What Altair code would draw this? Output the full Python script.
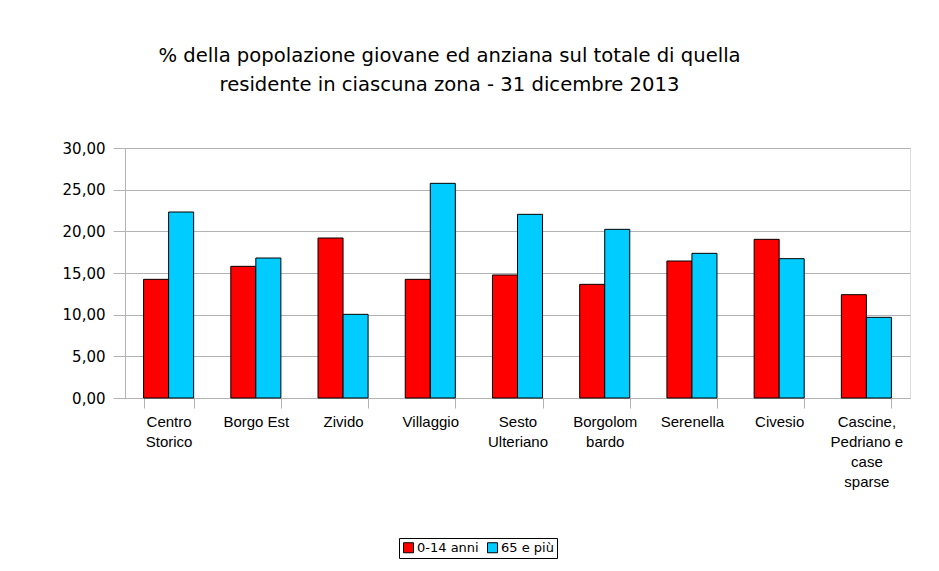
import altair as alt
import pandas as pd

zones = ["Centro Storico", "Borgo Est", "Zivido", "Villaggio", "Sesto Ulteriano",
         "Borgolombardo", "Serenella", "Civesio", "Cascine, Pedriano e case sparse"]
zone_labels = [["Centro", "Storico"], ["Borgo Est"], ["Zivido"], ["Villaggio"],
               ["Sesto", "Ulteriano"], ["Borgolom", "bardo"], ["Serenella"], ["Civesio"],
               ["Cascine,", "Pedriano e", "case", "sparse"]]
young = [14.24, 15.80, 19.20, 14.24, 14.76, 13.64, 16.44, 19.04, 12.40]
old = [22.32, 16.80, 10.04, 25.76, 22.04, 20.24, 17.36, 16.72, 9.68]
series = ["0-14 anni", "65 e più"]
colors = ["#FF0000", "#00CCFF"]
y_ticks = [0, 5, 10, 15, 20, 25, 30]

rows = []
for z, a, b in zip(zones, young, old):
    rows.append({"zona": z, "serie": series[0], "valore": a})
    rows.append({"zona": z, "serie": series[1], "valore": b})
df = pd.DataFrame(rows)

label_map = {z: l for z, l in zip(zones, zone_labels)}
label_expr = "{" + ",".join(
    '"%s": [%s]' % (z, ",".join('"%s"' % s for s in l)) for z, l in label_map.items()
) + "}[datum.value]"

chart = alt.Chart(df).mark_bar(stroke="black", strokeWidth=1).encode(
    x=alt.X("zona:N", sort=zones, title=None,
            scale=alt.Scale(paddingInner=0.426, paddingOuter=0.213),
            axis=alt.Axis(labelAngle=0, labelExpr=label_expr, tickBand="extent",
                          labelFont="Liberation Sans", labelFontSize=15,
                          labelLineHeight=20, labelColor="black", labelPadding=6,
                          tickSize=10, tickColor="#b3b3b3", domainColor="#b3b3b3",
                          labelBaseline="top")),
    xOffset=alt.XOffset("serie:N", sort=series, scale=alt.Scale(paddingInner=0, paddingOuter=0)),
    y=alt.Y("valore:Q", title=None,
            scale=alt.Scale(domain=[0, 30], nice=False),
            axis=alt.Axis(values=y_ticks,
                          labelExpr="replace(format(datum.value, '.2f'), '.', ',')",
                          labelFont="DejaVu Sans", labelFontSize=15, labelColor="black",
                          labelPadding=8, tickSize=12, tickColor="#b3b3b3",
                          domainColor="#b3b3b3", gridColor="#b3b3b3", grid=True)),
    color=alt.Color("serie:N", sort=series,
                    scale=alt.Scale(domain=series, range=colors),
                    legend=alt.Legend(title=None, orient="none", direction="horizontal",
                                      legendX=274, legendY=390,
                                      symbolType="square", symbolSize=100,
                                      symbolStrokeColor="black", symbolStrokeWidth=1,
                                      labelFont="DejaVu Sans", labelFontSize=13,
                                      labelColor="black", strokeColor="black",
                                      padding=3, columnPadding=6, labelOffset=2)),
).properties(
    width=785, height=250,
    padding={"left": 54, "top": 38, "right": 10, "bottom": 10},
    title=alt.TitleParams(
        ["% della popolazione giovane ed anziana sul totale di quella",
         "residente in ciascuna zona - 31 dicembre 2013"],
        font="DejaVu Sans", fontSize=19.6, fontWeight="normal", color="black",
        lineHeight=29, anchor="middle", dx=-68, offset=45),
).configure_view(stroke="#b3b3b3").configure(background="white")

chart.save("out.html", embed_options={"renderer": "svg", "actions": False})
